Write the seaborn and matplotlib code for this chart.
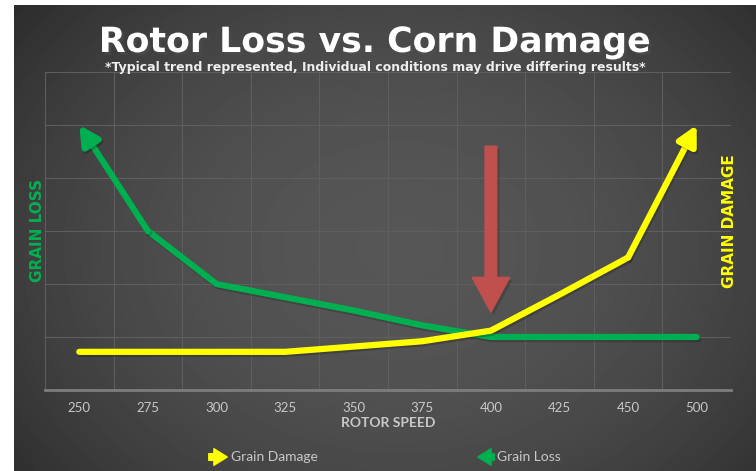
import numpy as np
import pandas as pd
import matplotlib
matplotlib.use('Agg')
import matplotlib.pyplot as plt
import matplotlib.patheffects as pe
import seaborn as sns

# chart data
rotor_speed = ['250', '275', '300', '325', '350', '375', '400', '425', '450', '500']
grain_loss = [5.0, 3.0, 2.0, 1.75, 1.5, 1.22, 1.0, 1.0, 1.0, 1.0]
grain_damage = [0.72, 0.72, 0.72, 0.72, 0.82, 0.92, 1.12, 1.8, 2.5, 5.0]
sweet_spot = '400'
marker_top, marker_tip = 4.6, 1.47

GREEN = '#00b050'
YELLOW = '#ffff00'
RED = '#c0504d'
GRID = '#5e5e5e'
LIGHT = '#c8c8c8'

df = pd.DataFrame({'pos': np.arange(len(rotor_speed)), 'speed': rotor_speed,
                   'loss': grain_loss, 'damage': grain_damage})

sns.set_style('dark')
plt.rcParams['font.family'] = ['DejaVu Sans']

fig = plt.figure(figsize=(7.56, 4.71), dpi=100, facecolor='white')

# dark panel with a soft radial highlight
bg = fig.add_axes([14 / 756, 0, 742 / 756, 466 / 471], zorder=0)
yy, xx = np.mgrid[0:466, 0:742]
r2 = ((xx - 386) / 420) ** 2 + ((yy - 245) / 330) ** 2
shade = np.clip(86 - 30 * r2, 40, 90) / 255
bg.imshow(shade, cmap='gray', vmin=0, vmax=1, aspect='auto', interpolation='bilinear')
bg.axis('off')

ax = fig.add_axes([45 / 756, 81 / 471, 686 / 756, 318 / 471], zorder=1)
ax.set_facecolor('none')

shadow = [pe.SimpleLineShadow(offset=(1, -1.5), shadow_color='black', alpha=0.2), pe.Normal()]
line_kw = dict(linewidth=4.5, solid_capstyle='round', solid_joinstyle='round', path_effects=shadow)

# lines (first/last segment drawn as arrows below)
sns.lineplot(data=df.iloc[1:], x='pos', y='loss', color=GREEN, ax=ax, **line_kw)
sns.lineplot(data=df.iloc[:-1], x='pos', y='damage', color=YELLOW, ax=ax, **line_kw)

head = '-|>,head_length=1.15,head_width=0.6'
ax.annotate('', xy=(df.pos.iloc[0], df.loss.iloc[0]), xytext=(df.pos.iloc[1], df.loss.iloc[1]),
            arrowprops=dict(arrowstyle=head, color=GREEN, lw=4.5, shrinkA=0, shrinkB=0,
                            mutation_scale=10, capstyle='round', path_effects=shadow))
ax.annotate('', xy=(df.pos.iloc[-1], df.damage.iloc[-1]), xytext=(df.pos.iloc[-2], df.damage.iloc[-2]),
            arrowprops=dict(arrowstyle=head, color=YELLOW, lw=4.5, shrinkA=0, shrinkB=0,
                            mutation_scale=10, capstyle='round', path_effects=shadow))

# red marker pointing at the crossover
xs = rotor_speed.index(sweet_spot)
ax.annotate('', xy=(xs, marker_tip), xytext=(xs, marker_top),
            arrowprops=dict(arrowstyle='simple,head_length=1.25,head_width=1.35,tail_width=0.42',
                            mutation_scale=20, color=RED, shrinkA=0, shrinkB=0,
                            path_effects=[pe.SimplePatchShadow(offset=(2, -2), alpha=0.25), pe.Normal()]))

ax.set_xlim(-0.5, len(rotor_speed) - 0.5)
ax.set_ylim(0, 6)
ax.set_xticks(df.pos, rotor_speed)
ax.set_xticks(np.arange(-0.5, len(rotor_speed)), minor=True)
ax.set_yticks(range(0, 7))
ax.set_yticklabels([])
ax.grid(False)
ax.grid(which='minor', axis='x', color=GRID, lw=0.8)
ax.grid(which='major', axis='y', color=GRID, lw=0.8)
ax.tick_params(which='both', length=0)
ax.tick_params(axis='x', colors=LIGHT, labelsize=9.5, pad=9)
for lab in ax.get_xticklabels():
    lab.set_family('Lato')
for s in ['top', 'left', 'right']:
    ax.spines[s].set_visible(False)
ax.spines['bottom'].set_color('#7d7d7d')
ax.spines['bottom'].set_linewidth(2)

ax.set_xlabel('ROTOR SPEED', fontsize=10, fontweight='bold', color=LIGHT, family='Lato')
ax.xaxis.label.set_va('center')
ax.xaxis.set_label_coords(0.5, (390 - 423) / 318)

ax.set_ylabel('GRAIN LOSS', fontsize=11, fontweight='bold', color=GREEN)
ax.yaxis.label.set_va('center')
ax.yaxis.set_label_coords((37 - 45) / 686, (390 - 230) / 318)
ax.text((730 - 45) / 686, (390 - 221) / 318, 'GRAIN DAMAGE', transform=ax.transAxes,
        rotation=90, ha='center', va='center', fontsize=11, fontweight='bold', color=YELLOW)

txt_shadow = [pe.SimplePatchShadow(offset=(2, -2), alpha=0.6), pe.Normal()]
fig.text(0.496, 1 - 42 / 471, 'Rotor Loss vs. Corn Damage', ha='center', va='center',
         fontsize=25, fontweight='bold', color='white', path_effects=txt_shadow)
fig.text(0.496, 1 - 67 / 471,
         '*Typical trend represented, Individual conditions may drive differing results*',
         ha='center', va='center', fontsize=9, fontweight='bold', color='#eeeeee')

# legend with arrow icons
leg_arrow = 'simple,head_length=0.8,head_width=1.0,tail_width=0.4'
fig.patches.append(matplotlib.patches.FancyArrowPatch(
    (206, 14), (230, 14), transform=None, arrowstyle=leg_arrow, mutation_scale=12, color=YELLOW))
fig.text(231 / 756, 14 / 471, 'Grain Damage', ha='left', va='center', fontsize=10,
         color=LIGHT, family='Lato')
fig.patches.append(matplotlib.patches.FancyArrowPatch(
    (497, 14), (475, 14), transform=None, arrowstyle=leg_arrow, mutation_scale=12, color=GREEN))
fig.text(497 / 756, 14 / 471, 'Grain Loss', ha='left', va='center', fontsize=10,
         color=LIGHT, family='Lato')

fig.savefig('out.png', dpi=100, facecolor=fig.get_facecolor())
